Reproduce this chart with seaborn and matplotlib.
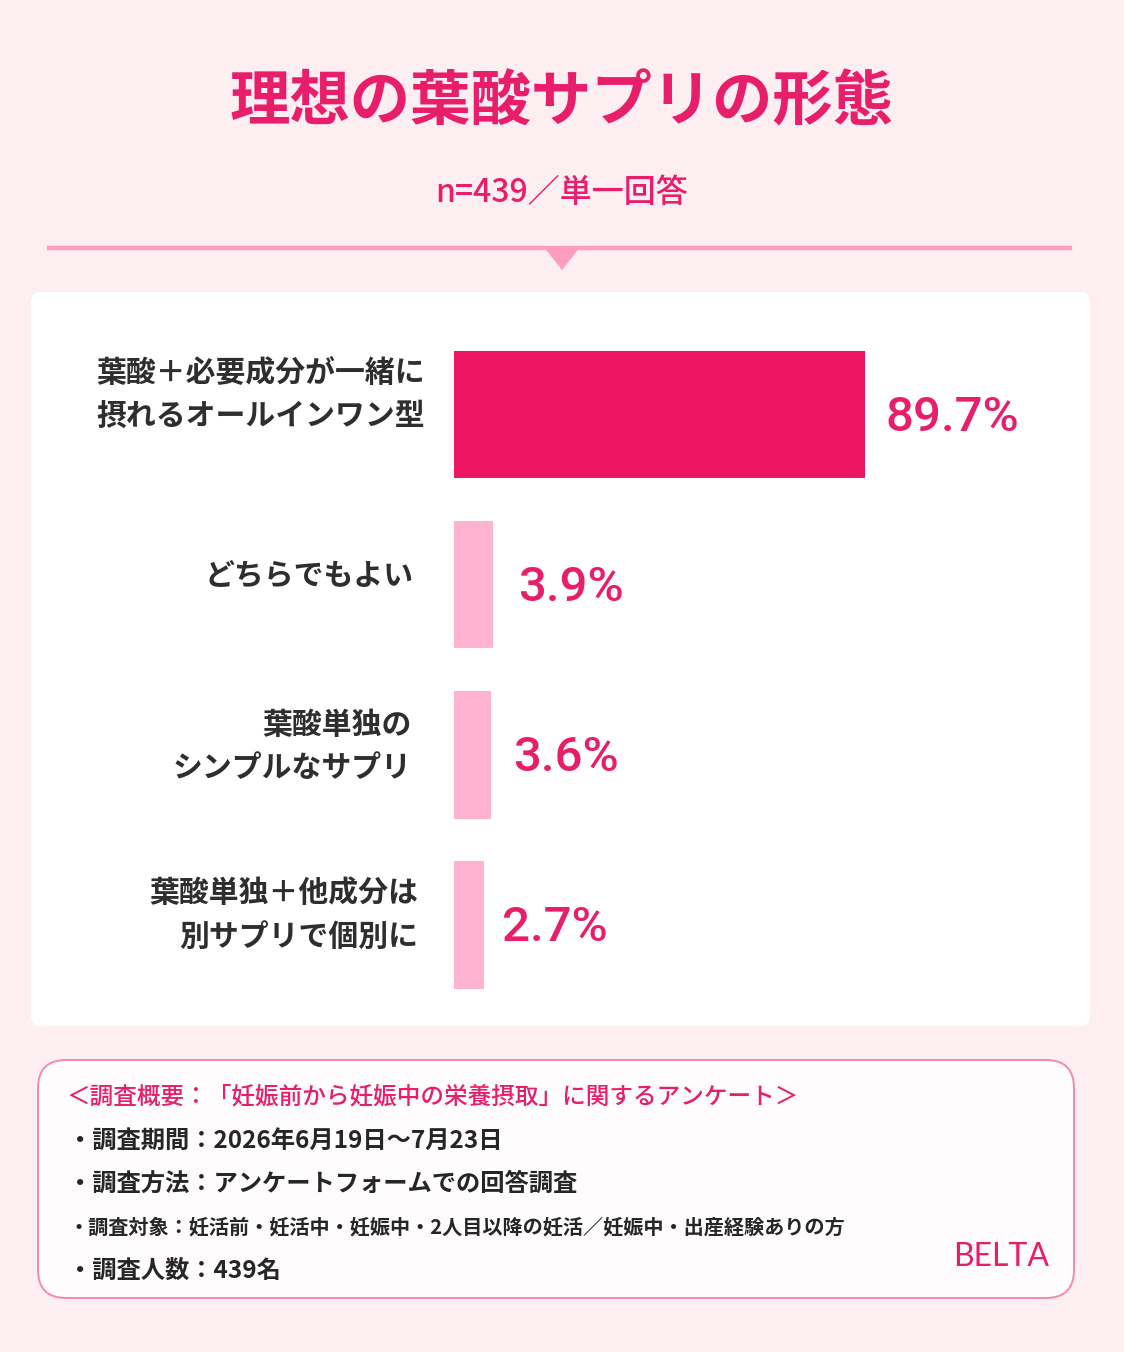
import numpy as np
import pandas as pd
import matplotlib
matplotlib.use("Agg")
import matplotlib.pyplot as plt
from matplotlib.patches import FancyBboxPatch, Polygon
from matplotlib.lines import Line2D
import seaborn as sns

# ---- data ----
categories = [
    "葉酸＋必要成分が一緒に\n摂れるオールインワン型",
    "どちらでもよい",
    "葉酸単独の\nシンプルなサプリ",
    "葉酸単独＋他成分は\n別サプリで個別に",
]
values = [89.7, 3.9, 3.6, 2.7]
value_labels = ["89.7%", "3.9%", "3.6%", "2.7%"]
title_text = "理想の葉酸サプリの形態"
subtitle_text = "n=439／単一回答"
footer_header = "＜調査概要：「妊娠前から妊娠中の栄養摂取」に関するアンケート＞"
footer_lines = [
    "・調査期間：2026年6月19日～7月23日",
    "・調査方法：アンケートフォームでの回答調査",
    "・調査対象：妊活前・妊活中・妊娠中・2人目以降の妊活／妊娠中・出産経験ありの方",
    "・調査人数：439名",
]
brand_text = "BELTA"

# ---- style ----
sns.set_theme(style="white")
FONT = ["Noto Sans CJK JP", "DejaVu Sans"]
plt.rcParams["font.family"] = FONT

PINK = "#E91E6B"
BAR_MAIN = "#EE1562"
BAR_LIGHT = "#FFB3D0"
BG = "#FDEEF2"
DARK = "#2E2E2E"

W, H = 1124, 1352
fig = plt.figure(figsize=(W / 100, H / 100), dpi=100)
fig.patch.set_facecolor(BG)

def fx(px):
    return px / W

def fy(py):
    return 1 - py / H

# title and subtitle
fig.text(0.5, fy(103), title_text, ha="center", va="center", fontsize=43.5,
         fontweight="bold", color=PINK)
fig.text(0.5, fy(193), subtitle_text, ha="center", va="center", fontsize=23,
         fontweight="medium", color=PINK)

# divider with triangle
fig.add_artist(Line2D([fx(47), fx(1072)], [fy(248), fy(248)], color="#FF9DBE",
                      lw=3.2, transform=fig.transFigure, solid_capstyle="butt"))
fig.add_artist(Polygon([[fx(543), fy(246)], [fx(581), fy(246)], [fx(562), fy(270)]],
                       closed=True, facecolor="#FF9DBE", edgecolor="none",
                       transform=fig.transFigure))

# white panel
fig.add_artist(FancyBboxPatch((fx(31), fy(1026)), fx(1090) - fx(31), fy(292) - fy(1026),
                              boxstyle="round,pad=0,rounding_size=0.008",
                              facecolor="white", edgecolor="none",
                              transform=fig.transFigure, zorder=0))

# footer box
fig.add_artist(FancyBboxPatch((fx(38), fy(1298)), fx(1074) - fx(38), fy(1060) - fy(1298),
                              boxstyle="round,pad=0,rounding_size=0.025",
                              facecolor="#FFFCFD", edgecolor="#F28AB0", lw=1.4,
                              transform=fig.transFigure, zorder=0,
                              mutation_aspect=W / H))

fig.text(fx(67), fy(1097), footer_header, ha="left", va="center", fontsize=17,
         fontweight="medium", color=PINK)
line_y = [1141, 1184, 1227, 1271]
line_fs = [17.5, 17.5, 14.5, 17.5]
for txt, yy, fs in zip(footer_lines, line_y, line_fs):
    fig.text(fx(68), fy(yy), txt, ha="left", va="center", fontsize=fs,
             fontweight="bold", color="#262626")
fig.text(fx(1049), fy(1257), brand_text, ha="right", va="center", fontsize=23,
         color=PINK, family=["Lato", "DejaVu Sans"], fontweight="regular")

# ---- bar chart ----
ax_top, ax_bot = 329.5, 1010
ax = fig.add_axes([fx(454), fy(ax_bot), fx(1090) - fx(454), (ax_bot - ax_top) / H])
ax.set_facecolor("none")

p = 0.75
fwd = lambda x: np.sign(x) * np.abs(x) ** p
inv = lambda y: np.sign(y) * np.abs(y) ** (1 / p)

df = pd.DataFrame({"category": categories, "value": values})
palette = {c: (BAR_MAIN if i == 0 else BAR_LIGHT) for i, c in enumerate(categories)}
sns.barplot(data=df, x="value", y="category", hue="category", palette=palette,
            orient="h", width=0.75, legend=False, ax=ax, saturation=1)
ax.set_xscale("function", functions=(fwd, inv))
xmax = inv(fwd(max(values)) * (1090 - 454) / (865 - 454))
ax.set_xlim(0, xmax)
ax.set_ylim(len(categories) - 0.5, -0.5)

for patch in ax.patches:
    patch.set_edgecolor("none")

# value labels
value_dx = [20, 25, 22, 18]
for i, (v, lab, dx) in enumerate(zip(values, value_labels, value_dx)):
    ax.annotate(lab, xy=(v, i), xytext=(dx, -3), textcoords="offset pixels",
                ha="left", va="center", fontsize=35.5, color=PINK,
                fontweight="medium", family=["Roboto", "DejaVu Sans"])

# category labels
label_dx = [-29, -40, -42, -36]
label_dy = [-20, -8, -8, -10]
for i, (cat, dx, dy) in enumerate(zip(categories, label_dx, label_dy)):
    ax.annotate(cat, xy=(0, i), xytext=(dx, -dy), textcoords="offset pixels",
                ha="right", va="center", multialignment="right", fontsize=21.5,
                color=DARK, fontweight="bold", linespacing=1.55,
                annotation_clip=False)

ax.set_xlabel("")
ax.set_ylabel("")
ax.set_xticks([])
ax.set_yticks([])
for s in ax.spines.values():
    s.set_visible(False)

fig.savefig("out.png", dpi=100, facecolor=BG)
